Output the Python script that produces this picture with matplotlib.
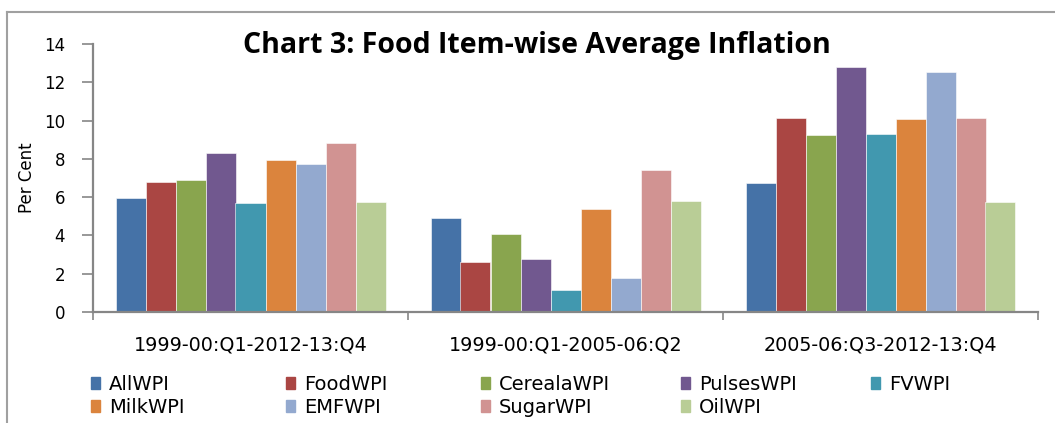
import numpy as np
import matplotlib.pyplot as plt
import matplotlib.patches as mpatches
from matplotlib.lines import Line2D

periods = ['1999-00:Q1-2012-13:Q4', '1999-00:Q1-2005-06:Q2', '2005-06:Q3-2012-13:Q4']
series = ['AllWPI', 'FoodWPI', 'CerealaWPI', 'PulsesWPI', 'FVWPI',
          'MilkWPI', 'EMFWPI', 'SugarWPI', 'OilWPI']
all_wpi = [5.96, 4.89, 6.74]
food_wpi = [6.81, 2.61, 10.15]
cereal_wpi = [6.88, 4.06, 9.25]
pulses_wpi = [8.31, 2.75, 12.82]
fv_wpi = [5.68, 1.15, 9.32]
milk_wpi = [7.94, 5.37, 10.08]
emf_wpi = [7.72, 1.79, 12.54]
sugar_wpi = [8.85, 7.40, 10.15]
oil_wpi = [5.75, 5.80, 5.75]
values = [all_wpi, food_wpi, cereal_wpi, pulses_wpi, fv_wpi,
          milk_wpi, emf_wpi, sugar_wpi, oil_wpi]

colors = ['#4572A7', '#AA4643', '#89A54E', '#71588F', '#4198AF',
          '#DB843D', '#93A9CF', '#D19392', '#B9CD96']

fam = ['DejaVu Sans']

fig = plt.figure(figsize=(10.55, 4.23), dpi=100)
ax = fig.add_axes([93/1055, 1-312/423, 945/1055, 268/423])

n = len(series)
bw = 1/10.5
x = np.arange(len(periods))
for i in range(n):
    ax.bar(x - 0.5 + 0.75*bw + i*bw + bw/2, values[i], width=bw, color=colors[i],
           edgecolor='white', linewidth=0.4, align='center', label=series[i])

ax.set_xlim(-0.5, len(periods)-0.5)
ax.set_ylim(0, 14)
ax.set_yticks(range(0, 15, 2))
ax.set_xticks(np.arange(len(periods)+1) - 0.5)
ax.set_xticklabels([])
ax.tick_params(axis='x', length=6, color='#868686', width=1.2)
ax.tick_params(axis='y', length=8, color='#868686', width=1.2, labelsize=12, pad=12)
for t in ax.get_yticklabels():
    t.set_family('DejaVu Sans')
for s in ['top', 'right']:
    ax.spines[s].set_visible(False)
for s in ['left', 'bottom']:
    ax.spines[s].set_color('#868686')
    ax.spines[s].set_linewidth(1.6)

for xi, lab in zip(x, periods):
    ax.text(xi, -0.123, lab, transform=ax.get_xaxis_transform(), ha='center', va='center',
            fontsize=13.8, family=fam)

fig.text(27/1055, 1-178/423, 'Per Cent', rotation=90, ha='center', va='center',
         fontsize=12, family=fam)
fig.text(537/1055, 1-45/423, 'Chart 3: Food Item-wise Average Inflation', ha='center',
         va='center', fontsize=20.5, fontweight='bold', family=['Open Sans', 'DejaVu Sans'])

# legend, one column at a time (Excel lays it out row by row)
col_x = [81, 276, 471, 671, 861]
for c in range(5):
    idx = [c, c+5] if c+5 < n else [c]
    handles = [mpatches.Patch(color=colors[k], label=series[k]) for k in idx]
    fig.legend(handles=handles, loc='upper left',
               bbox_to_anchor=(col_x[c]/1055, 1-365/423), frameon=False,
               handlelength=0.5, handleheight=0.6, handletextpad=0.45,
               labelspacing=0.2, borderpad=0, prop={'family': fam, 'size': 14})

# outer chart border
fig.add_artist(Line2D([7/1055, 7/1055], [0, 1-12/423], color='#a0a0a0', lw=1.5))
fig.add_artist(Line2D([7/1055, 1], [1-12/423, 1-12/423], color='#a0a0a0', lw=1.5))

fig.savefig('out.png', dpi=100)
